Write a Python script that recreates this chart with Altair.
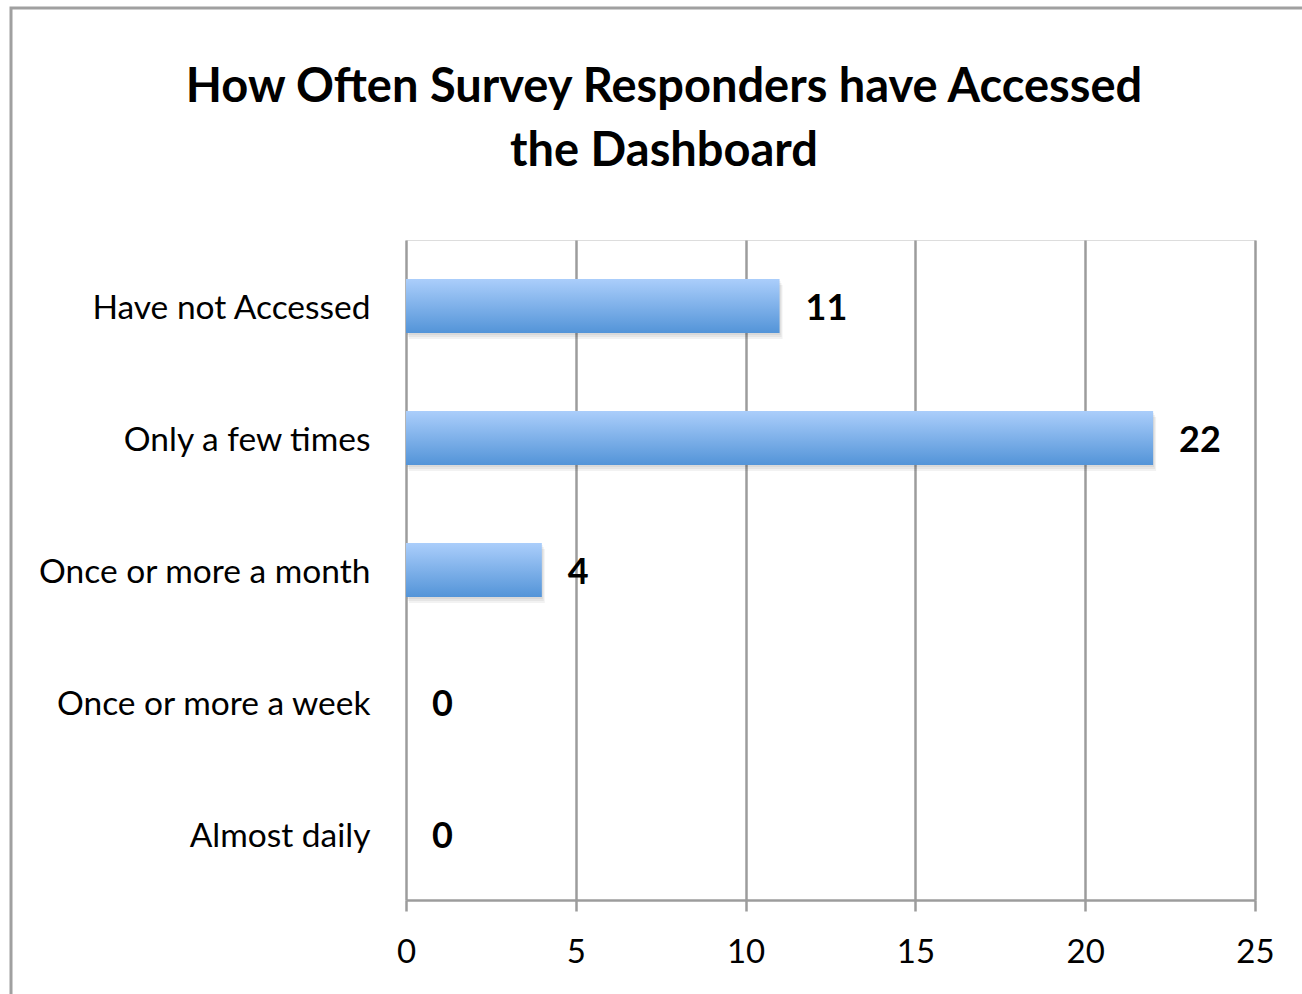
import altair as alt
import pandas as pd

categories = ["Have not Accessed", "Only a few times", "Once or more a month",
              "Once or more a week", "Almost daily"]
counts = [11, 22, 4, 0, 0]
x_ticks = [0, 5, 10, 15, 20, 25]
title_lines = ["How Often Survey Responders have Accessed", "the Dashboard"]

df = pd.DataFrame({"category": categories, "count": counts})

FONT = "Lato"

y_enc = alt.Y("category:N", sort=categories, title=None,
              scale=alt.Scale(paddingInner=0.59, paddingOuter=0.295),
              axis=alt.Axis(ticks=False, domain=False, grid=False,
                            labelFontSize=33.5, labelFont=FONT, labelColor="#000000",
                            labelPadding=36, labelLimit=400, labelOffset=3))
x_enc = alt.X("count:Q", title=None,
              scale=alt.Scale(domain=[0, 25], nice=False),
              axis=alt.Axis(values=x_ticks, grid=True, gridColor="#9c9c9c", gridWidth=2.5,
                            domain=True, domainColor="#9c9c9c", domainWidth=2.5,
                            ticks=True, tickColor="#9c9c9c", tickWidth=2.5, tickSize=11,
                            labelFontSize=33, labelFont=FONT, labelColor="#000000",
                            labelPadding=25, labelFlush=False))

base = alt.Chart(df)

frame = base.mark_rect(fill="white", fillOpacity=0, stroke="#a0a0a0", strokeWidth=3,
                       clip=False).encode(
    x=alt.value(-395), x2=alt.value(920), y=alt.value(-232), y2=alt.value(780)
).transform_filter(alt.datum.category == categories[0])

shadows = [
    base.mark_bar(color="#000000", opacity=0.05, xOffset=dx, yOffset=dy).encode(
        x=alt.X("count:Q"), y=alt.Y("category:N", sort=categories))
    for dx, dy in [(1, 2), (2, 4), (3, 6)]
]

bars = base.mark_bar(
    color=alt.Gradient(gradient="linear", x1=0, x2=0, y1=0, y2=1,
                       stops=[alt.GradientStop(color="#abcefb", offset=0),
                              alt.GradientStop(color="#5394d8", offset=1)])
).encode(x=x_enc, y=y_enc)

labels = base.mark_text(align="left", baseline="middle", dx=26, dy=3,
                        fontSize=36, font=FONT, fontWeight="bold", color="#000000").encode(
    x=alt.X("count:Q"), y=alt.Y("category:N", sort=categories), text="count:Q")

title_layers = [
    alt.Chart(pd.DataFrame({"t": [line]})).mark_text(
        align="center", baseline="alphabetic", fontSize=47, font=FONT,
        fontWeight="bold", color="#000000").encode(
        text="t:N", x=alt.value(258), y=alt.value(ypx))
    for line, ypx in zip(title_lines, [-138, -74])
]

chart = alt.layer(frame, *shadows, bars, labels, *title_layers).properties(
    width=849, height=660,
    autosize=alt.AutoSizeParams(type="none"),
    padding={"left": 406, "top": 240, "right": 47, "bottom": 94},
).configure_view(stroke=None).configure(background="white")

chart.save("out.html", embed_options={"renderer": "svg", "actions": False})
